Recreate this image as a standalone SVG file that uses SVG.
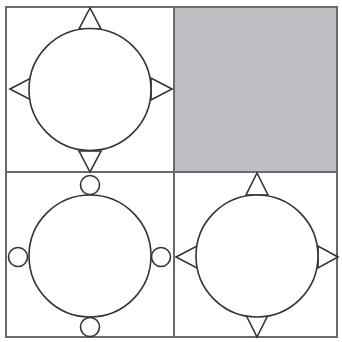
<svg xmlns="http://www.w3.org/2000/svg" width="342" height="342" viewBox="0 0 342 342">
<style>
.grid{fill:none;stroke:#6a6a6a;stroke-width:2}
.c{fill:#fff;stroke:#333;stroke-width:1.6}
.t{fill:#fff;stroke:#333;stroke-width:1.6;stroke-linejoin:miter}
</style>
<rect x="0" y="0" width="342" height="342" fill="#fff"/>
<g id="shaded">
<rect x="174" y="7" width="163" height="165" fill="#bcbec1"/>
</g>
<g id="connectors">
<rect class="grid" x="6" y="7" width="331" height="330"/>
<line class="grid" x1="174" y1="7" x2="174" y2="337"/>
<line class="grid" x1="6" y1="172" x2="337" y2="172"/>
</g>
<g id="node-top-left">
<polygon class="t" points="90,8 79,29 101,29"/>
<polygon class="t" points="10,89 31,78 31,100"/>
<polygon class="t" points="172,89 151,78 151,100"/>
<polygon class="t" points="90,172 79,151 101,151"/>
<circle class="c" cx="90" cy="89.5" r="61"/>
</g>
<g id="node-bottom-left">
<circle class="c" cx="90" cy="185" r="9.5"/>
<circle class="c" cx="18" cy="257" r="9.5"/>
<circle class="c" cx="161" cy="257" r="9.5"/>
<circle class="c" cx="90" cy="327" r="9.5"/>
<circle class="c" cx="90" cy="256" r="61"/>
</g>
<g id="node-bottom-right">
<polygon class="t" points="257,173 246,195 268,195"/>
<polygon class="t" points="176,257 197,246 197,268"/>
<polygon class="t" points="338,257 318,246 318,268"/>
<polygon class="t" points="257,337 246,315 268,315"/>
<circle class="c" cx="257" cy="256" r="61"/>
</g>
</svg>
